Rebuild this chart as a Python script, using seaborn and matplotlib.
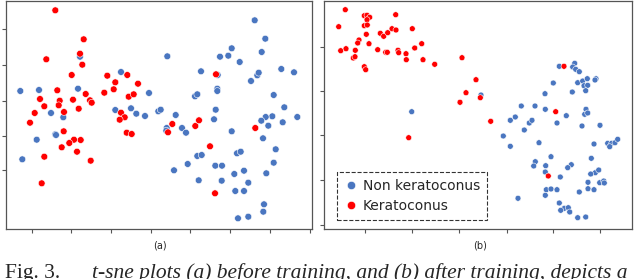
import numpy as np
import pandas as pd
import seaborn as sns
from matplotlib import pyplot as plt

# puntos (coordenadas t-sne sin escala, y hacia abajo)
# (a) antes del entrenamiento
a_kc_x = [55.3, 83.7, 46.3, 80.0, 82.3, 71.7, 57.3, 40.0, 44.3, 59.7, 58.7, 73.0, 78.7, 85.7,
          90.0, 91.7, 64.0, 34.7, 30.0, 63.7, 74.0, 80.7, 69.3, 61.7, 77.0, 44.3, 90.7, 41.7,
          107.3, 115.3, 127.3, 138.0, 113.7, 104.3, 128.7, 133.7, 121.0, 124.7, 119.7, 126.7,
          131.7, 172.3, 168.0, 195.3, 199.0, 210.0, 215.0, 255.3, 216.0]
a_kc_y = [10.3, 39.3, 59.3, 53.7, 64.7, 75.0, 90.3, 99.0, 106.3, 100.7, 105.3, 99.7, 108.7, 94.0,
          100.3, 102.7, 112.0, 113.0, 122.7, 131.3, 139.7, 140.0, 143.0, 147.3, 151.7, 156.7,
          160.7, 183.3, 75.7, 82.3, 75.0, 83.7, 89.3, 92.7, 96.7, 94.3, 112.7, 117.3, 119.7,
          132.7, 134.0, 124.0, 132.3, 126.0, 120.3, 146.3, 193.3, 128.0, 74.3]
a_nk_x = [20.3, 39.0, 78.0, 80.0, 51.0, 63.3, 36.7, 55.3, 56.0, 22.3, 121.0, 115.3, 131.0, 136.3,
          145.0, 149.0, 158.3, 160.7, 167.3, 175.7, 166.7, 166.3, 182.0, 186.0, 195.0, 197.3,
          201.0, 217.7, 217.3, 217.3, 215.7, 214.0, 220.0, 228.3, 231.7, 239.7, 251.0, 257.3,
          258.7, 254.7, 265.3, 261.7, 281.3, 294.0, 273.7, 284.3, 297.3, 272.3, 265.7, 261.3,
          268.3, 282.7, 231.7, 263.0, 275.7, 273.7, 266.3, 237.0, 240.7, 197.3, 201.7, 187.7,
          174.0, 198.7, 215.3, 222.0, 221.7, 234.3, 244.0, 248.3, 235.3, 244.0, 264.0, 263.3,
          238.0, 248.3]
a_nk_y = [91.0, 90.0, 88.7, 56.7, 113.0, 117.3, 139.7, 134.3, 135.0, 159.3, 72.0, 110.0, 108.3,
          113.7, 116.0, 93.0, 111.3, 109.7, 56.3, 115.0, 128.0, 130.7, 128.0, 132.7, 96.3, 94.3,
          71.3, 75.0, 88.7, 91.0, 109.7, 119.3, 56.7, 55.7, 48.3, 62.0, 81.0, 75.3, 72.7, 20.3,
          38.7, 52.0, 69.0, 72.3, 95.0, 107.3, 117.0, 116.3, 117.0, 120.7, 125.7, 122.3, 131.3,
          138.3, 149.3, 162.7, 173.3, 153.3, 151.7, 156.0, 155.0, 164.0, 170.3, 180.3, 165.7,
          165.7, 180.7, 174.0, 170.7, 182.7, 191.0, 191.0, 204.3, 211.7, 218.3, 216.7]

# (b) despues del entrenamiento
b_kc_x = [345.3, 338.7, 364.3, 367.0, 369.7, 367.0, 364.3, 367.3, 395.7, 392.0, 396.0, 412.3,
          380.3, 383.7, 387.7, 366.3, 359.0, 357.7, 369.0, 340.7, 346.0, 355.3, 377.7, 385.7,
          387.3, 398.0, 398.7, 406.0, 414.7, 421.7, 353.3, 355.0, 406.3, 423.0, 434.7, 364.3,
          365.7, 462.0, 476.0, 466.0, 480.3, 460.0, 490.7, 408.7, 564.0, 555.7, 548.3]
b_kc_y = [9.7, 26.7, 15.7, 15.3, 17.3, 19.7, 25.7, 25.0, 14.7, 28.7, 30.0, 28.7, 33.3, 36.3, 32.7,
          34.3, 40.0, 43.0, 43.7, 50.7, 48.7, 50.3, 49.7, 52.3, 52.3, 50.3, 52.7, 53.7, 48.0, 43.7,
          58.0, 56.7, 59.7, 59.7, 64.3, 66.7, 69.7, 57.7, 79.7, 92.7, 97.7, 102.3, 121.3, 137.7,
          66.3, 111.7, 176.0]
b_nk_x = [411.7, 481.0, 559.3, 574.7, 572.7, 575.7, 579.3, 553.3, 577.7, 582.7, 587.3, 596.0,
          595.0, 584.0, 587.7, 585.7, 572.3, 545.0, 521.3, 535.0, 545.3, 515.3, 510.3, 529.3,
          532.0, 524.3, 557.0, 566.3, 586.0, 584.7, 587.7, 582.0, 600.0, 503.3, 510.3, 539.0,
          594.0, 607.7, 611.7, 615.0, 617.7, 609.7, 591.3, 551.0, 535.3, 533.7, 545.7, 545.3,
          571.3, 567.7, 595.3, 598.7, 590.7, 560.3, 588.0, 599.7, 603.7, 604.3, 546.3, 551.0,
          557.0, 545.3, 579.3, 588.0, 594.0, 518.0, 559.3, 564.3, 568.3, 560.7, 569.7, 577.7,
          585.7]
b_nk_y = [111.7, 95.0, 66.3, 63.3, 67.0, 69.3, 71.7, 83.0, 82.7, 81.0, 78.7, 78.7, 80.0, 85.7,
          85.3, 90.7, 92.0, 93.7, 106.0, 106.0, 109.3, 117.0, 120.3, 123.0, 120.3, 130.0, 123.0,
          115.7, 109.3, 114.3, 113.0, 126.0, 125.3, 136.0, 146.3, 142.7, 144.0, 143.3, 143.3,
          142.7, 139.3, 146.7, 158.3, 156.7, 161.7, 166.0, 165.7, 172.0, 164.7, 167.7, 172.7,
          170.0, 174.0, 177.0, 182.3, 182.7, 181.0, 183.0, 189.7, 189.0, 189.7, 195.3, 192.0,
          188.7, 189.7, 198.3, 203.0, 208.3, 207.7, 210.3, 212.0, 217.7, 217.0]

clases = ['Non keratoconus', 'Keratoconus']
colores = {'Non keratoconus': '#4a76c0', 'Keratoconus': '#ff0000'}


def armar(nk_x, nk_y, kc_x, kc_y):
    d1 = pd.DataFrame({'x': nk_x, 'y': nk_y, 'clase': clases[0]})
    d2 = pd.DataFrame({'x': kc_x, 'y': kc_y, 'clase': clases[1]})
    return pd.concat([d1, d2], ignore_index=True)


df_a = armar(a_nk_x, a_nk_y, a_kc_x, a_kc_y)
df_b = armar(b_nk_x, b_nk_y, b_kc_x, b_kc_y)

sns.set_style('white')
fig = plt.figure(figsize=(6.4, 2.79), dpi=100)

ax1 = fig.add_axes([6 / 640, 1 - 228.7 / 279, 306 / 640, 228.2 / 279])
ax2 = fig.add_axes([324 / 640, 1 - 228.7 / 279, 307.5 / 640, 228.2 / 279])

sns.scatterplot(data=df_a, x='x', y='y', hue='clase', hue_order=clases, palette=colores,
                s=24, edgecolor='white', linewidth=0.4, ax=ax1, legend=False)
sns.scatterplot(data=df_b, x='x', y='y', hue='clase', hue_order=clases, palette=colores,
                s=18, edgecolor='white', linewidth=0.4, ax=ax2)

ax1.set_xlim(6, 312)
ax1.set_ylim(228.7, 0.5)
ax2.set_xlim(324, 631.5)
ax2.set_ylim(228.7, 0.5)

ax1.set_xticks([32, 71, 111, 151, 190, 230, 270, 310])
ax1.set_yticks([29, 65, 101, 136, 170])
ax2.set_xticks([365, 412, 459, 507, 553, 600])
ax2.set_yticks([47, 91, 135, 180, 225])

for ax in (ax1, ax2):
    ax.set_xlabel('')
    ax.set_ylabel('')
    ax.set_xticklabels([])
    ax.set_yticklabels([])
    ax.tick_params(axis='both', direction='out', length=3, width=0.8, colors='#555555',
                   bottom=True, left=True)
    for sp in ax.spines.values():
        sp.set_color('#555555')
        sp.set_linewidth(0.9)

leg = ax2.legend(loc='lower left', bbox_to_anchor=(0.042, 0.037), frameon=True, fancybox=False,
                 fontsize=10, handletextpad=0.35, borderpad=0.5, labelspacing=0.45,
                 handlelength=1.0, borderaxespad=0, markerscale=1.4)
leg.get_frame().set_edgecolor('black')
leg.get_frame().set_linestyle('--')
leg.get_frame().set_linewidth(0.8)

fig.text(160 / 640, 1 - 246 / 279, '(a)', ha='center', va='center', fontsize=7)
fig.text(480 / 640, 1 - 246 / 279, '(b)', ha='center', va='center', fontsize=7)

# el pie de figura queda recortado abajo, igual que en la imagen original
fig.text(5 / 640, 0.004, 'Fig. 3.', ha='left', va='baseline', fontsize=15.5,
         family='Liberation Serif')
fig.text(92 / 640, 0.004, 't-sne plots (a) before training, and (b) after training, depicts a',
         ha='left', va='baseline', fontsize=15.5, family='Liberation Serif', style='italic')

fig.savefig('out.png', dpi=100)
